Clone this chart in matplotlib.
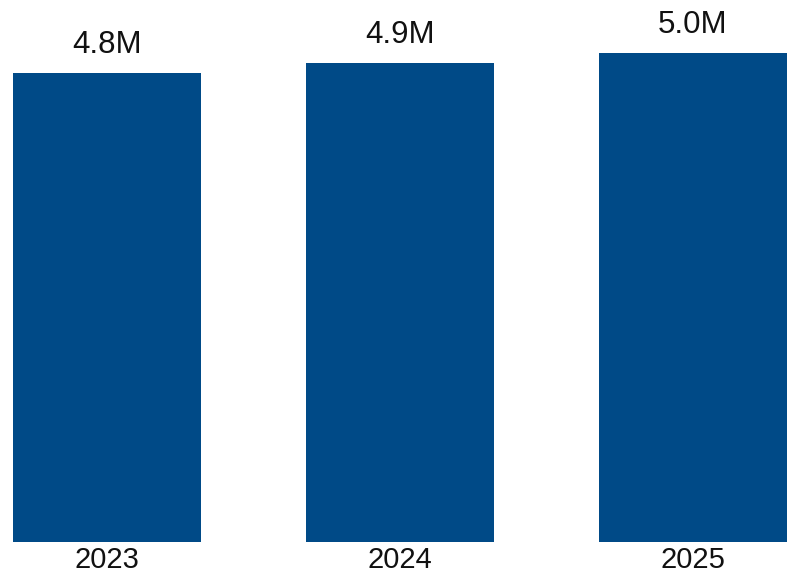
import matplotlib.pyplot as plt

years = ['2023', '2024', '2025']
values = [4.8, 4.9, 5.0]
labels = ['4.8M', '4.9M', '5.0M']

plt.rcParams['font.family'] = ['Liberation Sans', 'DejaVu Sans']

fig = plt.figure(figsize=(7.87, 5.75), dpi=100)
ax = fig.add_axes([0, 33 / 575, 1, 542 / 575])

x = range(len(years))
ax.bar(x, values, width=0.642, color='#004A87')

for xi, v, lab in zip(x, values, labels):
    ax.annotate(lab, (xi, v), xytext=(0, 14.4), textcoords='offset points',
                ha='center', va='baseline', fontsize=22.5, color='#111111')

ax.set_xlim(-0.365, 2.321)
ax.set_ylim(0, 5.542)
ax.set_xticks(list(x))
ax.set_xticklabels(years, fontsize=21, color='#111111')
ax.tick_params(axis='x', length=0, pad=3)
ax.set_yticks([])
for s in ax.spines.values():
    s.set_visible(False)

fig.savefig('out.png', dpi=100)
